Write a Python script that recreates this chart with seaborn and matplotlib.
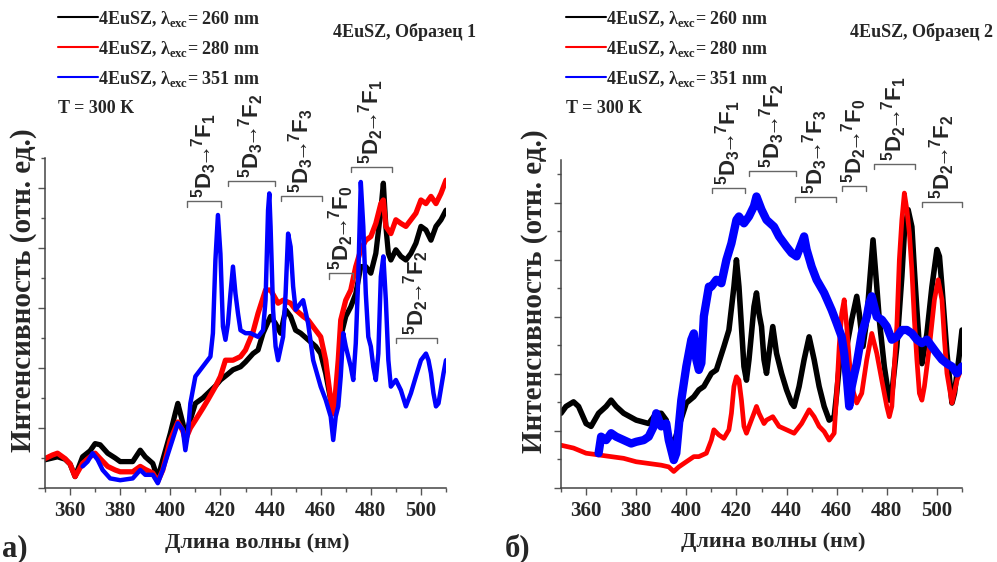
import numpy as np
import pandas as pd
import matplotlib
matplotlib.use("Agg")
import matplotlib.pyplot as plt
from matplotlib.lines import Line2D
from matplotlib.ticker import MultipleLocator
import seaborn as sns

# ---------------- data ----------------
# Panel a) (Образец 1)
LB_x = [350, 353, 355, 358, 360, 362, 365, 368, 370, 372,
        375, 378, 380, 383, 385, 388, 390, 393, 395, 397,
        400, 402, 403, 405, 406, 407, 410, 413, 415, 418,
        420, 423, 425, 428, 430, 433, 435, 437, 440, 442,
        444, 446, 448, 450, 452, 455, 458, 460, 462, 464,
        465, 466, 467, 468, 470, 472, 474, 476, 478, 480,
        482, 484, 485, 486, 487, 488, 490, 492, 494, 496,
        498, 500, 502, 504, 506, 508, 510]
LB_y = [0.47, 0.50, 0.52, 0.48, 0.40, 0.19, 0.52, 0.62, 0.74, 0.72,
        0.58, 0.50, 0.44, 0.44, 0.44, 0.63, 0.52, 0.41, 0.16, 0.47,
        0.91, 1.25, 1.41, 1.08, 0.86, 1.00, 1.41, 1.50, 1.58, 1.70,
        1.80, 1.90, 1.97, 2.02, 2.10, 2.24, 2.30, 2.58, 2.86, 2.74,
        2.58, 2.97, 2.86, 2.63, 2.58, 2.47, 2.36, 2.24, 1.91, 1.47,
        1.24, 1.47, 1.91, 2.52, 2.86, 3.02, 3.24, 3.69, 3.69, 3.58,
        3.91, 4.63, 5.08, 4.36, 3.91, 3.80, 3.97, 3.86, 3.80, 3.91,
        4.08, 4.36, 4.30, 4.13, 4.36, 4.47, 4.63]

LR_x = [350, 353, 355, 358, 360, 362, 365, 368, 370, 372,
        375, 378, 380, 383, 385, 388, 390, 393, 395, 397,
        400, 402, 403, 405, 406, 408, 410, 413, 415, 418,
        420, 422, 425, 428, 430, 433, 435, 438, 440, 443,
        445, 448, 450, 453, 455, 458, 460, 462, 463, 464,
        465, 466, 467, 468, 470, 472, 474, 476, 478, 480,
        482, 484, 485, 486, 488, 490, 492, 494, 496, 498,
        500, 502, 504, 506, 508, 510]
LR_y = [0.49, 0.55, 0.58, 0.49, 0.40, 0.19, 0.41, 0.52, 0.58, 0.49,
        0.36, 0.30, 0.27, 0.27, 0.27, 0.36, 0.31, 0.25, 0.11, 0.30,
        0.80, 1.00, 1.10, 0.95, 0.80, 1.00, 1.13, 1.33, 1.47, 1.69,
        1.86, 2.13, 2.13, 2.19, 2.30, 2.60, 2.91, 3.30, 3.30, 3.08,
        3.13, 3.08, 2.97, 2.86, 2.80, 2.63, 2.52, 2.13, 1.80, 1.47,
        1.24, 1.63, 2.13, 2.80, 3.13, 3.30, 3.69, 3.97, 4.13, 4.19,
        4.41, 4.74, 4.80, 4.36, 4.24, 4.47, 4.41, 4.36, 4.47, 4.58,
        4.80, 4.74, 4.86, 4.74, 4.91, 5.13]

LBl_x = [365, 367, 369, 371, 373, 376, 380, 385, 388, 390,
         393, 395, 397, 400, 403, 405, 406, 407, 408, 410,
         412, 414, 416, 417, 418, 419, 420, 421, 422, 423,
         424, 425, 426, 427, 428, 430, 432, 435, 437, 438,
         439, 439.5, 440, 441, 442, 443, 445, 446, 447, 448,
         449, 450, 452, 453, 455, 457, 460, 462, 464, 465,
         466, 467, 468, 469, 470, 472, 473, 474, 475, 476,
         477, 478, 479, 480, 481, 482, 483, 484, 485, 486,
         487, 488, 490, 492, 494, 496, 498, 500, 502, 503,
         504, 505, 506, 507, 509, 510]
LBl_y = [0.36, 0.44, 0.58, 0.47, 0.30, 0.16, 0.13, 0.16, 0.30, 0.22,
         0.22, 0.08, 0.30, 0.69, 1.08, 0.97, 0.63, 0.90, 1.41, 1.86,
         1.97, 2.08, 2.19, 2.58, 3.80, 4.55, 3.90, 2.69, 2.47, 2.74,
         3.24, 3.69, 3.24, 2.91, 2.63, 2.58, 2.58, 2.52, 2.63, 3.13,
         4.63, 4.91, 4.36, 2.97, 2.36, 2.13, 2.52, 3.24, 4.24, 4.02,
         3.36, 2.97, 3.08, 3.13, 2.74, 2.13, 1.69, 1.47, 1.19, 0.80,
         1.19, 1.36, 1.86, 2.58, 2.36, 2.02, 1.80, 2.41, 3.52, 5.10,
         4.36, 3.24, 2.52, 2.36, 2.02, 1.80, 2.24, 3.52, 3.86, 3.13,
         2.13, 1.69, 1.80, 1.63, 1.36, 1.58, 1.86, 2.13, 2.24, 2.13,
         1.91, 1.58, 1.36, 1.41, 1.91, 2.13]

# Panel б) (Образец 2)
RB_x = [350, 352, 355, 357, 360, 362, 365, 368, 370, 372,
        375, 380, 385, 388, 390, 392, 393, 395, 397, 400,
        403, 405, 407, 410, 412, 415, 417, 419, 420, 421,
        422, 423, 424, 425, 426, 427, 428, 429, 430, 431,
        432, 433, 434.5, 436, 438, 440, 442, 443, 445, 447,
        449, 451, 453, 455, 457, 459, 460, 461, 462, 464,
        466, 468, 469, 470.5, 472, 473, 474.5, 476, 477, 479,
        481, 482, 484, 486, 487, 488.5, 490, 491, 492, 493,
        494, 496, 498, 500, 501, 502, 504, 506, 507, 509,
        510]
RB_y = [1.31, 1.43, 1.51, 1.43, 1.13, 1.08, 1.31, 1.43, 1.54, 1.43,
        1.31, 1.19, 1.13, 1.31, 1.31, 1.19, 0.90, 0.78, 1.08, 1.49,
        1.60, 1.72, 1.78, 2.01, 2.07, 2.48, 2.77, 3.53, 4.00, 3.53,
        2.83, 2.13, 1.89, 2.25, 2.71, 3.18, 3.42, 3.06, 2.83, 2.25,
        2.01, 2.36, 2.83, 2.36, 2.01, 1.72, 1.49, 1.43, 1.78, 2.25,
        2.65, 2.25, 1.78, 1.43, 1.19, 1.25, 1.66, 2.13, 2.48, 2.48,
        2.95, 3.36, 3.06, 2.48, 2.95, 3.53, 4.35, 3.53, 2.95, 2.13,
        1.54, 1.66, 2.48, 3.71, 4.47, 4.88, 4.58, 3.82, 3.12, 2.48,
        2.18, 2.71, 3.53, 4.18, 4.06, 3.53, 2.36, 1.49, 1.66, 2.36,
        2.77]

RR_x = [350, 355, 360, 365, 370, 375, 380, 385, 390, 393,
        395, 397, 400, 403, 405, 408, 410, 411, 413, 415,
        417, 418, 419, 420, 421, 422, 423, 424, 425, 427,
        428, 429, 431, 432, 434.5, 437, 440, 443, 446, 449,
        451, 453, 455, 457, 459, 460, 461, 462, 463, 464,
        465, 466, 468, 470, 472, 474, 476, 478, 480, 481,
        482, 484, 485, 486, 487, 488, 489, 490, 491, 492,
        493, 494, 495, 497, 499, 500.5, 502, 503, 504, 506,
        508, 510]
RR_y = [0.75, 0.70, 0.61, 0.58, 0.55, 0.52, 0.46, 0.43, 0.40, 0.37,
        0.29, 0.37, 0.46, 0.55, 0.55, 0.61, 0.84, 1.02, 0.93, 0.87,
        1.02, 1.31, 1.78, 1.95, 1.89, 1.54, 1.08, 0.96, 1.08, 1.31,
        1.43, 1.31, 1.13, 1.19, 1.25, 1.08, 1.02, 0.96, 1.13, 1.37,
        1.25, 1.08, 0.99, 0.84, 0.96, 1.66, 2.48, 3.06, 3.30, 2.83,
        2.25, 1.78, 1.49, 1.66, 2.25, 2.71, 2.36, 1.89, 1.43, 1.25,
        1.43, 2.83, 4.00, 4.70, 5.17, 4.88, 4.47, 3.82, 2.95, 2.25,
        1.66, 1.54, 1.78, 2.48, 3.30, 3.65, 3.30, 2.60, 2.01, 1.49,
        1.89, 2.13]

RBl_x = [365, 366, 368, 370, 372, 375, 378, 380, 383, 385,
         387, 388, 390, 392, 393, 395, 396, 397, 398, 400,
         402, 403, 404, 405, 406, 407, 409, 410, 412, 414,
         416, 418, 420, 421, 423, 425, 427, 428, 430, 432,
         435, 437, 440, 442, 444, 446, 447, 448, 450, 452,
         455, 458, 460, 462, 463, 464, 465, 466, 467, 468,
         470, 472, 473, 474, 475, 476, 478, 480, 482, 484,
         486, 488, 490, 492, 494, 496, 498, 500, 502, 504,
         506, 508, 510]
RBl_y = [0.61, 0.90, 0.84, 0.96, 0.90, 0.84, 0.78, 0.81, 0.84, 0.90,
         1.08, 1.31, 1.08, 1.13, 0.84, 0.49, 0.61, 1.08, 1.54, 2.13,
         2.60, 2.71, 2.25, 2.07, 2.19, 3.01, 3.53, 3.53, 3.65, 3.59,
         4.00, 4.29, 4.70, 4.76, 4.64, 4.76, 4.94, 5.11, 4.88, 4.70,
         4.58, 4.41, 4.23, 4.12, 4.06, 4.29, 4.41, 4.18, 3.88, 3.65,
         3.42, 3.12, 2.89, 2.65, 2.36, 1.95, 1.43, 1.78, 1.99, 2.18,
         2.71, 3.00, 3.24, 3.36, 3.18, 3.00, 2.95, 2.83, 2.60, 2.65,
         2.77, 2.77, 2.71, 2.60, 2.54, 2.60, 2.48, 2.36, 2.25, 2.18,
         2.13, 2.01, 2.13]

series_labels = ["4EuSZ, λ$_{\\mathrm{exc}}$= 260 nm",
                 "4EuSZ, λ$_{\\mathrm{exc}}$= 280 nm",
                 "4EuSZ, λ$_{\\mathrm{exc}}$= 351 nm"]
series_colors = ["#000000", "#ff0000", "#0000ff"]
sample_titles = ["4EuSZ, Образец 1", "4EuSZ, Образец 2"]
panel_letters = ["а)", "б)"]
temp_label = "T = 300 K"
x_label = "Длина волны (нм)"
y_label = "Интенсивность (отн. ед.)"

# transitions: (start nm, end nm, bracket level, J of 5D, J of 7F)
trans_L = [(406.7, 420.3, 4.78, "3", "1"), (423.0, 441.8, 5.12, "3", "2"),
           (444.2, 460.5, 4.87, "3", "3"), (463.3, 472.9, 3.58, "2", "0"),
           (472.1, 488.5, 5.35, "2", "1"), (490.1, 506.4, 2.50, "2", "2")]
trans_R = [(410.3, 423.4, 5.26, "3", "1"), (425.0, 443.8, 5.56, "3", "2"),
           (443.4, 459.7, 5.10, "3", "3"), (462.1, 471.7, 5.30, "2", "0"),
           (474.9, 491.3, 5.68, "2", "1"), (494.1, 510.0, 5.02, "2", "2")]

# ---------------- style ----------------
sns.set_style("ticks")
plt.rcParams["font.family"] = ["Liberation Serif", "DejaVu Serif"]
plt.rcParams["font.weight"] = "bold"
plt.rcParams["mathtext.fontset"] = "custom"
plt.rcParams["mathtext.rm"] = "Liberation Serif:bold"
plt.rcParams["mathtext.bf"] = "Liberation Serif:bold"
plt.rcParams["mathtext.sf"] = "Liberation Sans:bold"
plt.rcParams["axes.unicode_minus"] = False

W, H = 997, 562
fig = plt.figure(figsize=(W / 100, H / 100), dpi=100)
axL = fig.add_axes([45 / W, 74 / H, 401 / W, 330 / H])
axR = fig.add_axes([561 / W, 74 / H, 401 / W, 328 / H])

panels = [
    (axL, [(LB_x, LB_y), (LR_x, LR_y), (LBl_x, LBl_y)], 5.5, trans_L,
     [3.8, 3.8, 3.2], -0.021),
    (axR, [(RB_x, RB_y), (RR_x, RR_y), (RBl_x, RBl_y)], 5.75, trans_R,
     [4.0, 3.4, 6.0], -0.033),
]

for i, (ax, data, ytop, trans, lws, ylx) in enumerate(panels):
    for (xs, ys), c, lw in zip(data, series_colors, lws):
        df = pd.DataFrame({"nm": xs, "I": ys})
        sns.lineplot(data=df, x="nm", y="I", color=c, lw=lw, ax=ax,
                     estimator=None, sort=False)
    ax.set_xlim(350, 510)
    ax.set_ylim(0, ytop)
    ax.xaxis.set_major_locator(MultipleLocator(20))
    ax.xaxis.set_minor_locator(MultipleLocator(10))
    ax.yaxis.set_major_locator(MultipleLocator(1))
    ax.yaxis.set_minor_locator(MultipleLocator(0.5))
    ax.set_yticklabels([])
    for s in ["top", "right"]:
        ax.spines[s].set_visible(False)
    for s in ["left", "bottom"]:
        ax.spines[s].set_color("#444444")
        ax.spines[s].set_linewidth(1.1)
    ax.tick_params(which="major", direction="out", length=5, width=1,
                   color="#555555", labelsize=15, pad=4)
    ax.tick_params(which="minor", direction="out", length=2.8, width=1,
                   color="#555555")
    for lab in ax.get_xticklabels():
        lab.set_fontweight("bold")
    ax.set_xlabel(x_label, fontsize=16, fontweight="bold")
    ax.set_ylabel(y_label, fontsize=21, fontweight="bold")
    ax.yaxis.set_label_coords(ylx, 0.6)
    ax.xaxis.set_label_coords(0.53, -0.135)

    d = 0.09
    for (x0, x1, yb, j, k) in trans:
        ax.plot([x0, x0, x1, x1], [yb - d, yb, yb, yb - d], color="#666666",
                lw=1.0, clip_on=False)
        txt = r"$\mathsf{^{5}D_{%s}}\!\!\to\!\!\mathsf{^{7}F_{%s}}$" % (j, k)
        ax.annotate(txt, xy=((x0 + x1) / 2, yb), xytext=(0, 2),
                    textcoords="offset points", rotation=90, ha="center",
                    va="bottom", fontsize=16, fontweight="bold",
                    family=["Liberation Sans", "DejaVu Sans"],
                    annotation_clip=False)

# legends / captions in figure pixels
for i, x0 in enumerate([58, 566]):
    for r, (lab, c) in enumerate(zip(series_labels, series_colors)):
        yl = 1 - (17 + 30 * r) / H
        fig.add_artist(Line2D([x0 / W, (x0 + 40) / W], [yl, yl],
                              transform=fig.transFigure, color=c, lw=1.5))
        fig.text((x0 + 40) / W, 1 - (24 + 30 * r) / H, lab, fontsize=13,
                 fontweight="bold", ha="left", va="baseline")
    fig.text(x0 / W, 1 - 113 / H, temp_label, fontsize=13, fontweight="bold",
             ha="left", va="baseline")

fig.text(333 / W, 1 - 37 / H, sample_titles[0], fontsize=13, fontweight="bold",
         ha="left", va="baseline")
fig.text(850 / W, 1 - 37 / H, sample_titles[1], fontsize=13, fontweight="bold",
         ha="left", va="baseline")
fig.text(2 / W, 1 - 556 / H, panel_letters[0], fontsize=22, fontweight="bold",
         ha="left", va="baseline")
fig.text(505 / W, 1 - 556 / H, panel_letters[1], fontsize=22, fontweight="bold",
         ha="left", va="baseline")

fig.savefig("out.png", dpi=100)
